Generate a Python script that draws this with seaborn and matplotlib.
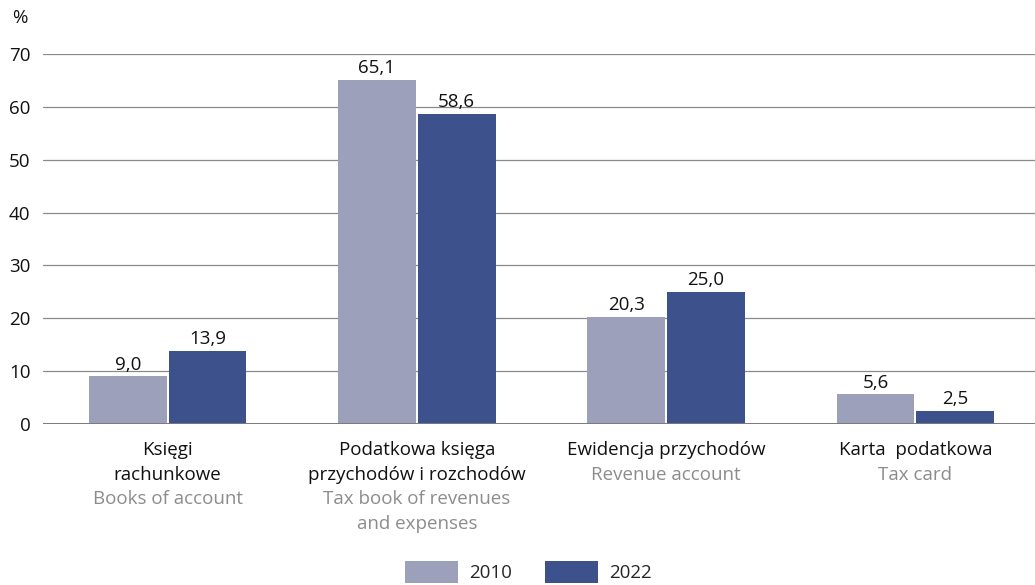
import matplotlib
matplotlib.use("Agg")
import matplotlib.pyplot as plt
import seaborn as sns
import pandas as pd

categories_pl = ["Księgi\nrachunkowe", "Podatkowa księga\nprzychodów i rozchodów",
                 "Ewidencja przychodów", "Karta  podatkowa"]
categories_en = ["Books of account", "Tax book of revenues\nand expenses",
                 "Revenue account", "Tax card"]
years = ["2010", "2022"]
values_2010 = [9.0, 65.1, 20.3, 5.6]
values_2022 = [13.9, 58.6, 25.0, 2.5]
y_ticks = [0, 10, 20, 30, 40, 50, 60, 70]

sns.set_theme(style="white")
plt.rcParams['font.family'] = ['Open Sans', 'DejaVu Sans']
FS = 13.5

df = pd.DataFrame({
    "cat": categories_pl * 2,
    "year": [years[0]] * 4 + [years[1]] * 4,
    "val": values_2010 + values_2022,
})

fig = plt.figure(figsize=(10.35, 5.85), dpi=100)
ax = fig.add_axes([43 / 1035, 1 - 424 / 585, 1 - 43 / 1035, (424 - 54) / 585])

palette = {"2010": "#9CA0BA", "2022": "#3D528C"}
sns.barplot(data=df, x="cat", y="val", hue="year", palette=palette, ax=ax,
            width=0.64, gap=0.025, saturation=1, order=categories_pl,
            hue_order=years, zorder=3, legend=True, linewidth=0, edgecolor="none")

for cont in ax.containers:
    labs = [f"{b.get_height():.1f}".replace(".", ",") for b in cont]
    ax.bar_label(cont, labels=labs, padding=2, fontsize=FS, color="#111111")

ax.set_ylim(0, 70)
ax.set_xlim(-0.5, 3.48)
ax.set_yticks(y_ticks)
ax.yaxis.grid(True, color="#8a8a8a", linewidth=0.9, zorder=0)
ax.set_axisbelow(True)
ax.axhline(0, color="#7a7a7a", linewidth=1.4, zorder=4)
for s in ax.spines.values():
    s.set_visible(False)
ax.tick_params(axis="y", length=0, pad=9, labelsize=FS, labelcolor="#111111")
ax.tick_params(axis="x", length=0)
ax.set_xticklabels([])
ax.set_xlabel("")
ax.set_ylabel("")

first_base = -30 * 0.75   # points below axis (30 px)
step = -23.5 * 0.75       # line step in points
for i, (pl, en) in enumerate(zip(categories_pl, categories_en)):
    lines = [(t, "#111111") for t in pl.split("\n")] + [(t, "#8c8c8c") for t in en.split("\n")]
    for k, (t, c) in enumerate(lines):
        ax.annotate(t, xy=(i, 0), xycoords=("data", "axes fraction"),
                    xytext=(0, first_base + k * step), textcoords="offset points",
                    ha="center", va="baseline", fontsize=FS, color=c)

fig.text(12 / 1035, 1 - 18 / 585, "%", fontsize=FS, va="center", ha="left", color="#111111")

handles, labels = ax.get_legend_handles_labels()
ax.legend_.remove()
fig.legend(handles, labels, loc="center", bbox_to_anchor=(528 / 1035, 1 - 572 / 585),
           ncol=2, frameon=False, fontsize=FS, handlelength=2.83, handleheight=1.39,
           handletextpad=0.6, columnspacing=1.75, borderpad=0, borderaxespad=0)

fig.savefig("out.png", dpi=100)
